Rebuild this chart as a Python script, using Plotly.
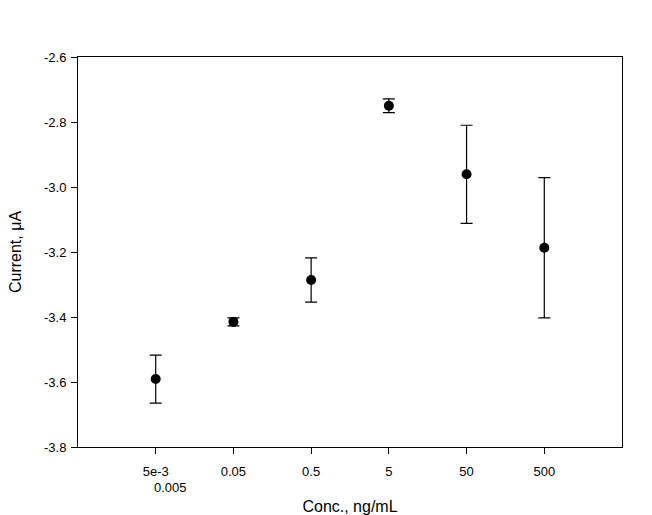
import plotly.graph_objects as go
import math

conc = [0.005, 0.05, 0.5, 5, 50, 500]
current = [-3.591, -3.415, -3.286, -2.750, -2.961, -3.187]
error = [0.074, 0.012, 0.068, 0.021, 0.151, 0.216]
tick_vals = [0.005, 0.05, 0.5, 5, 50, 500]
tick_text = ["5e-3", "0.05", "0.5", "5", "50", "500"]
y_ticks = [-3.8, -3.6, -3.4, -3.2, -3.0, -2.8, -2.6]
y_text = ["-3.8", "-3.6", "-3.4", "-3.2", "-3.0", "-2.8", "-2.6"]

font = "Liberation Sans, Arial, sans-serif"

fig = go.Figure()
fig.add_trace(go.Scatter(
    x=conc, y=current, mode="markers",
    marker=dict(color="black", size=10, symbol="circle"),
    error_y=dict(type="data", array=error, visible=True, color="black",
                 thickness=1.2, width=6),
    showlegend=False,
))

fig.update_layout(
    width=652, height=515,
    margin=dict(l=78, r=30, t=57, b=68),
    paper_bgcolor="white", plot_bgcolor="white",
    font=dict(family=font, size=13, color="black"),
    xaxis=dict(
        type="log", range=[math.log10(0.0005), math.log10(5000)],
        tickvals=tick_vals, ticktext=tick_text,
        ticks="outside", ticklen=6, tickwidth=1, tickcolor="black",
        ticklabelstandoff=6,
        showline=True, linecolor="black", linewidth=1, mirror=True,
        showgrid=False, zeroline=False, automargin=False,
        title=dict(text="Conc., ng/mL", font=dict(size=16), standoff=24),
    ),
    yaxis=dict(
        range=[-3.8, -2.6], tickvals=y_ticks, ticktext=y_text,
        ticks="outside", ticklen=6, tickwidth=1, tickcolor="black",
        ticklabelstandoff=2,
        showline=True, linecolor="black", linewidth=1, mirror=True,
        showgrid=False, zeroline=False, automargin=False,
        title=dict(text="Current, μA", font=dict(size=16), standoff=18),
    ),
)

fig.add_annotation(
    x=math.log10(0.005), xref="x", y=-3.8, yref="y",
    text="0.005", showarrow=False, xshift=15, yshift=-40,
    font=dict(family=font, size=13, color="black"),
)

fig.write_html("out.html")
